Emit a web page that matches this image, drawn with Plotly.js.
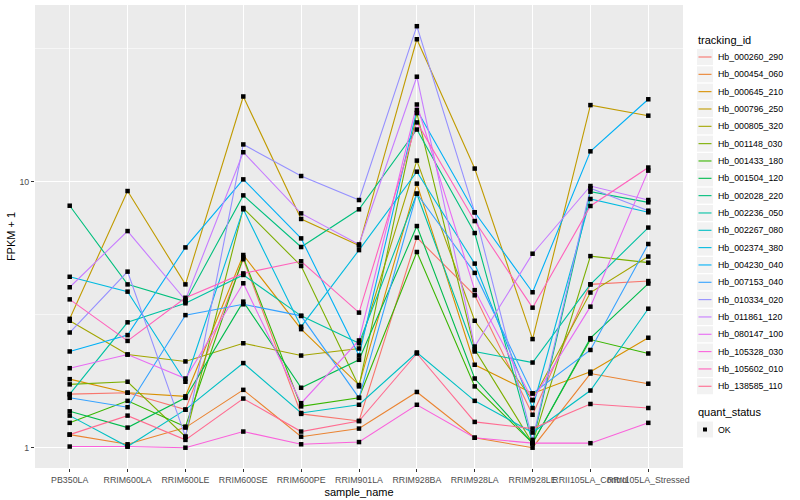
<!DOCTYPE html>
<html>
<head>
<meta charset="utf-8">
<script src="https://cdn.plot.ly/plotly-3.0.1.min.js"></script>
<style>html,body{margin:0;padding:0;background:#fff;}#chart{width:800px;height:500px;}</style>
</head>
<body>
<div id="chart"></div>
<script>
var samples = ["PB350LA","RRIM600LA","RRIM600LE","RRIM600SE","RRIM600PE","RRIM901LA","RRIM928BA","RRIM928LA","RRIM928LE","RRII105LA_Control","RRII105LA_Stressed"];

var trackingIds = ["Hb_000260_290","Hb_000454_060","Hb_000645_210","Hb_000796_250","Hb_000805_320","Hb_001148_030","Hb_001433_180","Hb_001504_120","Hb_002028_220","Hb_002236_050","Hb_002267_080","Hb_002374_380","Hb_004230_040","Hb_007153_040","Hb_010334_020","Hb_011861_120","Hb_080147_100","Hb_105328_030","Hb_105602_010","Hb_138585_110"];

var Hb_000260_290 = [1.59,1.61,1.39,5.11,1.34,1.26,6.16,3.74,1.33,4.11,4.23];
var Hb_000454_060 = [1.12,1.03,1.19,1.65,1.10,1.18,1.62,1.09,1.00,1.90,1.74];
var Hb_000645_210 = [1.81,1.61,1.56,5.30,2.79,1.72,9.83,2.05,1.60,1.93,2.59];
var Hb_000796_250 = [3.05,9.22,4.11,20.9,7.24,5.75,34.3,11.2,2.56,19.4,17.7];
var Hb_000805_320 = [3.00,2.24,2.11,2.47,2.22,2.36,12.0,3.00,1.51,3.83,5.23];
var Hb_001148_030 = [1.73,1.77,1.10,7.96,4.82,1.70,18.1,2.34,1.04,5.25,4.96];
var Hb_001433_180 = [1.24,1.50,1.20,5.19,1.43,1.54,5.44,1.70,1.04,2.55,2.26];
var Hb_001504_120 = [1.37,1.19,1.54,3.54,1.68,2.14,6.81,1.82,1.04,2.58,4.14];
var Hb_002028_220 = [8.12,4.11,3.54,8.88,5.68,7.87,15.7,6.41,1.04,9.17,8.36];
var Hb_002236_050 = [1.59,2.96,3.49,4.46,3.13,2.47,9.01,2.30,2.09,4.11,6.72];
var Hb_002267_080 = [1.32,1.01,1.39,2.08,1.35,1.45,2.28,1.50,1.14,1.64,3.33];
var Hb_002374_380 = [4.39,3.86,1.77,7.87,2.85,5.53,10.9,4.92,1.41,8.61,7.67];
var Hb_004230_040 = [2.30,2.65,5.66,10.2,6.12,2.22,18.6,7.67,3.84,13.0,20.4];
var Hb_007153_040 = [1.54,1.42,3.15,3.46,3.13,1.54,9.01,4.54,1.60,2.33,5.83];
var Hb_010334_020 = [2.71,4.59,1.10,13.8,10.5,8.53,38.4,7.67,1.07,9.44,7.78];
var Hb_011861_120 = [4.01,6.52,3.59,12.9,7.60,5.81,24.8,2.40,5.36,9.63,8.53];
var Hb_080147_100 = [1.99,2.24,1.82,4.15,1.47,2.53,19.5,3.91,1.51,3.39,11.0];
var Hb_105328_030 = [1.01,1.01,1.00,1.15,1.03,1.05,1.45,1.09,1.04,1.04,1.24];
var Hb_105602_010 = [3.61,2.52,3.66,4.52,5.02,3.22,16.7,7.11,3.36,8.10,11.3];
var Hb_138585_110 = [1.12,1.32,1.07,1.53,1.15,1.26,2.26,1.25,1.18,1.46,1.41];

var seriesValues = [Hb_000260_290,Hb_000454_060,Hb_000645_210,Hb_000796_250,Hb_000805_320,Hb_001148_030,Hb_001433_180,Hb_001504_120,Hb_002028_220,Hb_002236_050,Hb_002267_080,Hb_002374_380,Hb_004230_040,Hb_007153_040,Hb_010334_020,Hb_011861_120,Hb_080147_100,Hb_105328_030,Hb_105602_010,Hb_138585_110];

var colors = ["#F8766D","#EA8331","#D89000","#C09B00","#A3A500","#7CAE00","#39B600","#00BB4E","#00BF7D","#00C1A3","#00BFC4","#00BAE0","#00B0F6","#35A2FF","#9590FF","#C77CFF","#E76BF3","#FA62DB","#FF62BC","#FF6C91"];

var quantStatus = ["OK"];
var yTickVals = [1, 10];
var yTickText = ["1", "10"];
var yMinorVals = [3.1623, 31.623];

var W = 800, H = 500, ML = 35, MR = 117, MT = 5, MB = 32;
var PW = W - ML - MR, PH = H - MT - MB;
function px(x) { return (x - ML) / PW; }
function py(y) { return (H - MB - y) / PH; }

var traces = [];
var allX = [], allY = [];
for (var i = 0; i < trackingIds.length; i++) {
  traces.push({
    type: 'scatter', mode: 'lines', name: trackingIds[i],
    x: samples, y: seriesValues[i],
    line: {color: colors[i], width: 1.1},
    hoverinfo: 'name+y'
  });
  for (var j = 0; j < samples.length; j++) { allX.push(samples[j]); allY.push(seriesValues[i][j]); }
}
traces.push({
  type: 'scatter', mode: 'markers', name: quantStatus[0],
  x: allX, y: allY,
  marker: {symbol: 'square', size: 4.5, color: '#000000'}
});

var fam = '"Liberation Sans", Arial, Helvetica, sans-serif';

// legend drawn with shapes/annotations to match ggplot key spacing
var shapes = [], annotations = [];
var keyL = 697, keyR = 713, firstY = 57, step = 17.33;
annotations.push({xref: 'paper', yref: 'paper', x: px(696), y: py(40), xanchor: 'left', yanchor: 'middle',
  text: 'tracking_id', showarrow: false, font: {family: fam, size: 11, color: '#000000'}});
for (var k = 0; k < trackingIds.length; k++) {
  var cy = firstY + k * step;
  shapes.push({type: 'rect', xref: 'paper', yref: 'paper', x0: px(keyL), x1: px(keyR), y0: py(cy - 8), y1: py(cy + 8),
    fillcolor: '#F2F2F2', line: {width: 0}, layer: 'above'});
  shapes.push({type: 'line', xref: 'paper', yref: 'paper', x0: px(keyL + 1.5), x1: px(keyR - 1.5), y0: py(cy), y1: py(cy),
    line: {color: colors[k], width: 1.1}, layer: 'above'});
  annotations.push({xref: 'paper', yref: 'paper', x: px(716), y: py(cy), xanchor: 'left', yanchor: 'middle',
    text: trackingIds[k], showarrow: false, font: {family: fam, size: 8.8, color: '#000000'}});
}
annotations.push({xref: 'paper', yref: 'paper', x: px(696), y: py(412), xanchor: 'left', yanchor: 'middle',
  text: 'quant_status', showarrow: false, font: {family: fam, size: 11, color: '#000000'}});
var okY = 429.5;
shapes.push({type: 'rect', xref: 'paper', yref: 'paper', x0: px(keyL), x1: px(keyR), y0: py(okY - 8), y1: py(okY + 8),
  fillcolor: '#F2F2F2', line: {width: 0}, layer: 'above'});
shapes.push({type: 'rect', xref: 'paper', yref: 'paper', x0: px(703), x1: px(707), y0: py(okY - 2), y1: py(okY + 2),
  fillcolor: '#000000', line: {width: 0}, layer: 'above'});
annotations.push({xref: 'paper', yref: 'paper', x: px(716), y: py(okY), xanchor: 'left', yanchor: 'middle',
  text: quantStatus[0], showarrow: false, font: {family: fam, size: 8.8, color: '#000000'}});

var layout = {
  width: W, height: H,
  margin: {l: ML, r: MR, t: MT, b: MB},
  paper_bgcolor: '#FFFFFF', plot_bgcolor: '#EBEBEB',
  font: {family: fam, size: 8.8, color: '#4D4D4D'},
  showlegend: false,
  xaxis: {
    type: 'category', categoryarray: samples, categoryorder: 'array',
    range: [-0.6, 10.6],
    showgrid: true, gridcolor: '#FFFFFF', gridwidth: 1.1,
    zeroline: false, showline: false,
    ticks: 'outside', ticklen: 3, tickwidth: 1, tickcolor: '#333333',
    tickangle: 0,
    tickfont: {family: fam, size: 8.8, color: '#4D4D4D'},
    title: {text: 'sample_name', font: {family: fam, size: 11, color: '#000000'}, standoff: 4},
    automargin: false
  },
  yaxis: {
    type: 'log', range: [-0.0763, 1.664],
    tickmode: 'array', tickvals: yTickVals, ticktext: yTickText,
    showgrid: true, gridcolor: '#FFFFFF', gridwidth: 1.1,
    minor: {tickvals: yMinorVals, showgrid: true, gridcolor: '#FFFFFF', gridwidth: 0.55, ticks: ''},
    zeroline: false, showline: false,
    ticks: 'outside', ticklen: 3, tickwidth: 1, tickcolor: '#333333',
    tickfont: {family: fam, size: 8.8, color: '#4D4D4D'},
    title: {text: 'FPKM + 1', font: {family: fam, size: 11, color: '#000000'}, standoff: 1},
    automargin: false
  },
  shapes: shapes,
  annotations: annotations
};

Plotly.newPlot('chart', traces, layout, {displayModeBar: false, staticPlot: true});
</script>
</body>
</html>
